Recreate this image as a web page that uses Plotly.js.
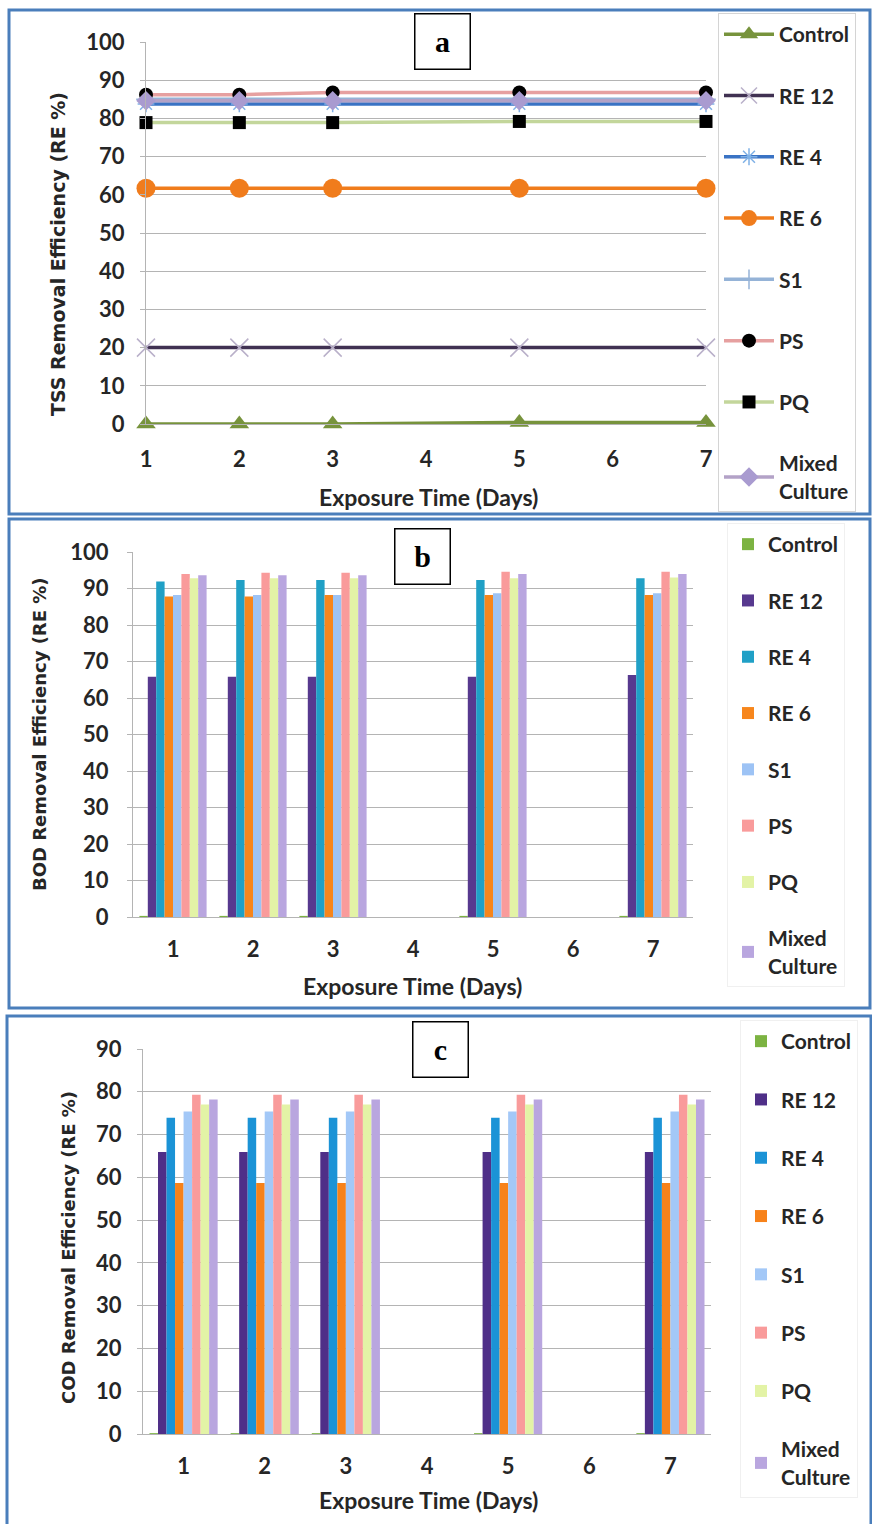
<!DOCTYPE html>
<html>
<head>
<meta charset="utf-8">
<script src="https://cdn.plot.ly/plotly-3.0.1.min.js"></script>
<style>
html,body{margin:0;padding:0;background:#fff;}
#chart{width:872px;height:1524px;}
</style>
</head>
<body>
<div id="chart"></div>
<script>
// ---------------- DATA ----------------
const days = [1, 2, 3, 5, 7];
const dayTicks = [1, 2, 3, 4, 5, 6, 7];
const dayTickText = ['1', '2', '3', '4', '5', '6', '7'];
const seriesNames = ['Control', 'RE 12', 'RE 4', 'RE 6', 'S1', 'PS', 'PQ', 'Mixed<br>Culture'];

// (a) TSS removal efficiency (RE %)
const tssControl = [0, 0, 0, 0.4, 0.4];
const tssRE12    = [20, 20, 20, 20, 20];
const tssRE4     = [83.8, 83.8, 83.8, 83.8, 83.8];
const tssRE6     = [61.7, 61.7, 61.7, 61.7, 61.7];
const tssS1      = [85, 85, 85, 85, 85];
const tssPS      = [86.2, 86.2, 86.8, 86.8, 86.8];
const tssPQ      = [78.9, 78.9, 78.9, 79.2, 79.2];
const tssMixed   = [84.6, 84.6, 84.6, 84.6, 84.6];

// (b) BOD removal efficiency (RE %)
const bodControl = [0.3, 0.3, 0.3, 0.3, 0.3];
const bodRE12    = [65.8, 65.8, 65.8, 65.8, 66.3];
const bodRE4     = [91.9, 92.3, 92.3, 92.3, 92.8];
const bodRE6     = [87.8, 87.8, 88.2, 88.2, 88.2];
const bodS1      = [88.2, 88.2, 88.2, 88.7, 88.7];
const bodPS      = [94.0, 94.3, 94.3, 94.6, 94.6];
const bodPQ      = [92.8, 92.8, 92.8, 92.8, 93.0];
const bodMixed   = [93.6, 93.6, 93.6, 94.0, 94.0];

// (c) COD removal efficiency (RE %)
const codControl = [0.2, 0.2, 0.2, 0.2, 0.2];
const codRE12    = [65.9, 65.9, 65.9, 65.9, 65.9];
const codRE4     = [73.9, 73.9, 73.9, 73.9, 73.9];
const codRE6     = [58.7, 58.7, 58.7, 58.7, 58.7];
const codS1      = [75.4, 75.4, 75.4, 75.4, 75.4];
const codPS      = [79.3, 79.3, 79.3, 79.3, 79.3];
const codPQ      = [77.0, 77.0, 77.0, 77.0, 77.0];
const codMixed   = [78.2, 78.2, 78.2, 78.2, 78.2];

// ---------------- STYLE ----------------
const W = 872, H = 1524;
const px = v => v / W;
const py = v => 1 - v / H;
const FONT = 'Lato, "Open Sans", sans-serif';
const TXT = '#262626';
const GRID = '#b4b4b4';
const BORDER = '#4a7ebb';

const tssSeries = [tssControl, tssRE12, tssRE4, tssRE6, tssS1, tssPS, tssPQ, tssMixed];
const bodSeries = [bodControl, bodRE12, bodRE4, bodRE6, bodS1, bodPS, bodPQ, bodMixed];
const codSeries = [codControl, codRE12, codRE4, codRE6, codS1, codPS, codPQ, codMixed];

const lineStyles = [
  {line: '#77933c', marker: {symbol: 'triangle-up', size: 17, color: '#77933c'}},
  {line: '#403152', marker: {symbol: 'x-thin-open', size: 18, color: '#b9b0c9', line: {width: 1.5, color: '#b9b0c9'}}},
  {line: '#3a73c4', marker: {symbol: 'asterisk-open', size: 14, color: '#7fb1e6', line: {width: 1.5, color: '#7fb1e6'}}},
  {line: '#f07c1c', marker: {symbol: 'circle', size: 19, color: '#f07c1c'}},
  {line: '#95b3d7', marker: {symbol: 'cross-thin-open', size: 14, color: '#95b3d7', line: {width: 1.5, color: '#95b3d7'}}},
  {line: '#e6a0a0', marker: {symbol: 'circle', size: 14, color: '#000000'}},
  {line: '#c3d69b', marker: {symbol: 'square', size: 13, color: '#000000'}},
  {line: '#b3a2c7', marker: {symbol: 'diamond', size: 15, color: '#a99bd0'}}
];
const barColorsB = ['#7cb342', '#57398f', '#20a0c6', '#f7861c', '#9dc3f5', '#f99b9b', '#e3f3a6', '#b9a6df'];
const barColorsC = ['#7cb342', '#4f2f88', '#1b93d6', '#f7821a', '#a3c8f7', '#f99b9b', '#e3f3a6', '#b9a6df'];

const traces = [];
tssSeries.forEach((vals, i) => {
  const st = lineStyles[i];
  traces.push({
    type: 'scatter', mode: 'lines+markers', x: days, y: vals,
    name: seriesNames[i], xaxis: 'x', yaxis: 'y', legend: 'legend',
    legendgroup: 'a' + i, cliponaxis: false,
    line: {color: st.line, width: 3.5}, marker: st.marker
  });
});
bodSeries.forEach((vals, i) => {
  traces.push({
    type: 'bar', x: days, y: vals, name: seriesNames[i],
    xaxis: 'x2', yaxis: 'y2', legend: 'legend2', legendgroup: 'b' + i,
    marker: {color: barColorsB[i], line: {width: 0}}
  });
});
codSeries.forEach((vals, i) => {
  traces.push({
    type: 'bar', x: days, y: vals, name: seriesNames[i],
    xaxis: 'x3', yaxis: 'y3', legend: 'legend3', legendgroup: 'c' + i,
    marker: {color: barColorsC[i], line: {width: 0}}
  });
});

const tickFont = {family: FONT, size: 22, color: TXT, weight: 'bold'};
function yAx(top, bottom, range, standoff) {
  return {
    domain: [py(bottom), py(top)], range: range, dtick: 10, tick0: 0,
    showgrid: true, gridcolor: GRID, gridwidth: 1, zeroline: false,
    showline: true, linecolor: GRID, linewidth: 1,
    ticks: 'outside', ticklen: 5, tickcolor: GRID,
    tickfont: tickFont, ticklabelstandoff: standoff, fixedrange: true
  };
}
function xAx(left, right, range, anchor, standoff) {
  return {
    domain: [px(left), px(right)], range: range, anchor: anchor,
    tickvals: dayTicks, ticktext: dayTickText, showgrid: false, zeroline: false,
    showline: true, linecolor: GRID, linewidth: 1, ticks: '',
    tickfont: tickFont, ticklabelstandoff: standoff, fixedrange: true
  };
}
const legendBase = {
  xanchor: 'left', yanchor: 'top', bgcolor: 'rgba(255,255,255,1)',
  font: {family: FONT, size: 21, color: TXT, weight: 'bold'},
  traceorder: 'grouped', tracegroupgap: 31, itemclick: false, itemdoubleclick: false
};

function titleY(text, x, y, size) {
  return {text: text, x: px(x), y: py(y), xref: 'paper', yref: 'paper', showarrow: false,
    xanchor: 'center', yanchor: 'middle', textangle: -90,
    font: {family: '"DejaVu Sans", sans-serif', size: size, color: TXT, weight: 'bold'}};
}
function titleX(text, x, y) {
  return {text: text, x: px(x), y: py(y), xref: 'paper', yref: 'paper', showarrow: false,
    xanchor: 'center', yanchor: 'middle',
    font: {family: FONT, size: 23, color: TXT, weight: 'bold'}};
}
function panelLabel(text, x, y) {
  return {text: '<b>' + text + '</b>', x: px(x), y: py(y), xref: 'paper', yref: 'paper', showarrow: false,
    xanchor: 'center', yanchor: 'middle',
    width: 52, height: 52, bordercolor: '#000', borderwidth: 1.5, bgcolor: '#fff',
    valign: 'middle', font: {family: '"Liberation Serif", serif', size: 30, color: '#000'}};
}

const layout = {
  width: W, height: H, margin: {l: 0, r: 0, t: 0, b: 0},
  paper_bgcolor: '#fff', plot_bgcolor: 'rgba(0,0,0,0)',
  barmode: 'group', bargap: 0.16, bargroupgap: 0,
  showlegend: true,
  xaxis: xAx(146, 706, [1, 7], 'y', 16),
  yaxis: yAx(42, 424, [0, 100], 11),
  xaxis2: xAx(133, 693, [0.5, 7.5], 'y2', 13),
  yaxis2: Object.assign(yAx(552, 917, [0, 100], 14), {anchor: 'x2'}),
  xaxis3: xAx(143, 711, [0.5, 7.5], 'y3', 13),
  yaxis3: Object.assign(yAx(1049, 1434, [0, 90], 11), {anchor: 'x3'}),
  legend: Object.assign({}, legendBase, {x: px(718), y: py(13), bordercolor: '#d4d4d4', borderwidth: 1, itemwidth: 50, tracegroupgap: 31}),
  legend2: Object.assign({}, legendBase, {x: px(727), y: py(523), bordercolor: '#f0f0f0', borderwidth: 1, tracegroupgap: 26}),
  legend3: Object.assign({}, legendBase, {x: px(740), y: py(1020), bordercolor: '#f0f0f0', borderwidth: 1, tracegroupgap: 28}),
  annotations: [
    panelLabel('a', 442, 42), panelLabel('b', 422, 556), panelLabel('c', 440, 1049),
    titleY('TSS Removal Efficiency (RE %)', 58, 254, 19),
    titleY('BOD Removal Efficiency (RE %)', 40, 734, 18),
    titleY('COD Removal Efficiency (RE %)', 68, 1248, 18),
    titleX('Exposure Time (Days)', 428, 497),
    titleX('Exposure Time (Days)', 412, 986),
    titleX('Exposure Time (Days)', 428, 1500)
  ],
  shapes: [
    {type: 'rect', xref: 'paper', yref: 'paper', x0: px(9), x1: px(870), y0: py(514), y1: py(10), line: {color: BORDER, width: 3}},
    {type: 'rect', xref: 'paper', yref: 'paper', x0: px(9), x1: px(870), y0: py(1008), y1: py(519), line: {color: BORDER, width: 3}},
    {type: 'rect', xref: 'paper', yref: 'paper', x0: px(7), x1: px(871), y0: py(1535), y1: py(1016), line: {color: BORDER, width: 3}}
  ]
};

Plotly.newPlot('chart', traces, layout, {displayModeBar: false, staticPlot: true});
</script>
</body>
</html>
